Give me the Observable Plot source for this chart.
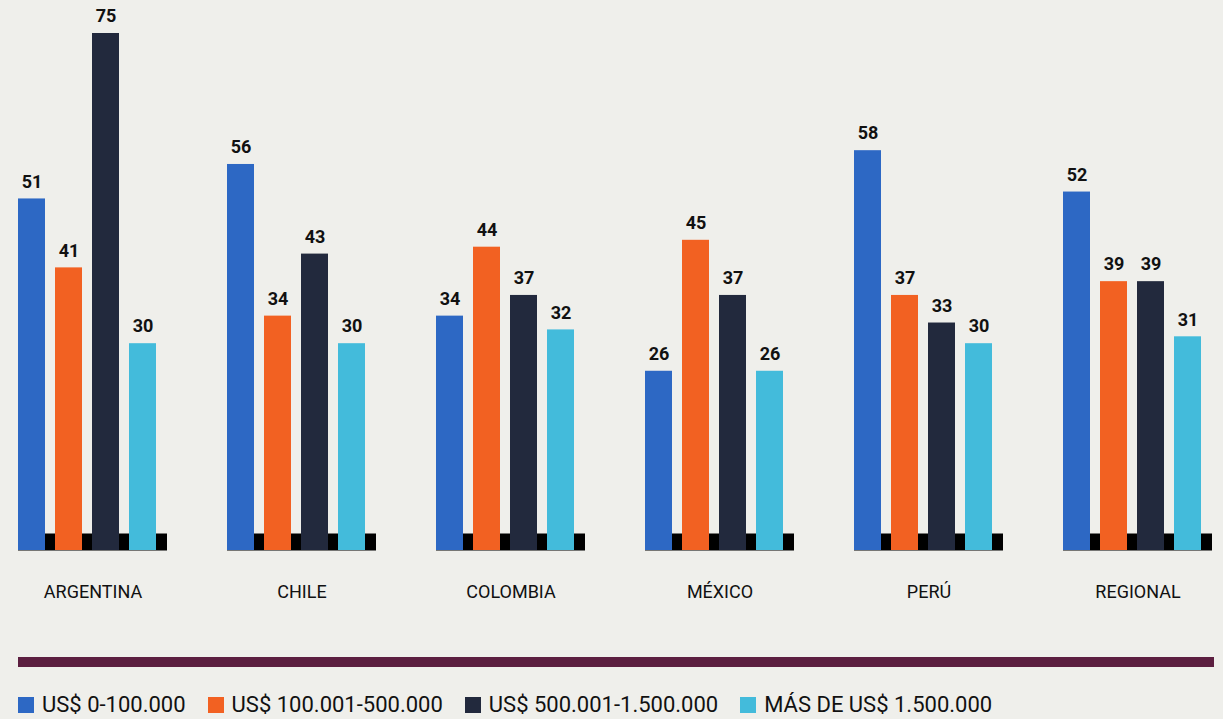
<!DOCTYPE html>
<html>
<head>
<meta charset="utf-8">
<script src="https://cdn.jsdelivr.net/npm/d3@7"></script>
<script src="https://cdn.jsdelivr.net/npm/@observablehq/plot@0.6"></script>
<style>
  html, body { margin: 0; padding: 0; background: #efefeb; }
  body { width: 1223px; height: 719px; overflow: hidden; font-family: Roboto, sans-serif; position: relative; }
  #chart svg { display: block; }
  #rule { position: absolute; left: 18px; top: 657px; width: 1196px; height: 10px; background: #5c1f40; }
  #legend { position: absolute; left: 18px; top: 692px; display: flex; align-items: center; gap: 22px; font-size: 22px; color: #111; }
  #legend .item { display: flex; align-items: center; gap: 8px; }
  #legend .sw { width: 16px; height: 16px; display: inline-block; }
</style>
</head>
<body>
<div id="chart"></div>
<div id="rule"></div>
<div id="legend"></div>
<script>
const countries = ["ARGENTINA", "CHILE", "COLOMBIA", "MÉXICO", "PERÚ", "REGIONAL"];
const series = ["US$ 0-100.000", "US$ 100.001-500.000", "US$ 500.001-1.500.000", "MÁS DE US$ 1.500.000"];
const values0_100k = [51, 56, 34, 26, 58, 52];
const values100k_500k = [41, 34, 44, 45, 37, 39];
const values500k_1500k = [75, 43, 37, 37, 33, 39];
const valuesOver1500k = [30, 30, 32, 26, 30, 31];
const colors = ["#2d68c4", "#f26122", "#22293d", "#43bbdb"];

const seriesValues = [values0_100k, values100k_500k, values500k_1500k, valuesOver1500k];
const data = [];
countries.forEach((c, i) => {
  series.forEach((s, j) => {
    data.push({country: c, series: s, value: seriesValues[j][i]});
  });
});

const chart = Plot.plot({
  width: 1223,
  height: 620,
  marginLeft: 16,
  marginRight: 8,
  marginTop: 33,
  marginBottom: 70,
  style: {background: "transparent", fontFamily: "Roboto, sans-serif", fontSize: "18px", color: "#111"},
  fx: {domain: countries, paddingInner: 0.285, paddingOuter: 0, label: null, axis: "bottom", tickSize: 0, tickPadding: 35},
  x: {domain: series, paddingInner: 0.28, paddingOuter: 0.14, align: 0, axis: null},
  y: {domain: [0, 75], axis: null},
  color: {domain: series, range: colors},
  marks: [
    Plot.ruleY([0], {stroke: "#000", strokeWidth: 17, dy: -8.5}),
    Plot.barY(data, {fx: "country", x: "series", y: "value", fill: "series"}),
    Plot.text(data, {fx: "country", x: "series", y: "value", text: d => String(d.value), dy: -17, fontWeight: 700, fontSize: 18, fill: "#111"})
  ]
});
document.getElementById("chart").appendChild(chart);

const legend = document.getElementById("legend");
series.forEach((s, j) => {
  const item = document.createElement("div");
  item.className = "item";
  const sw = document.createElement("span");
  sw.className = "sw";
  sw.style.background = colors[j];
  const t = document.createElement("span");
  t.textContent = s;
  item.appendChild(sw);
  item.appendChild(t);
  legend.appendChild(item);
});
</script>
</body>
</html>
